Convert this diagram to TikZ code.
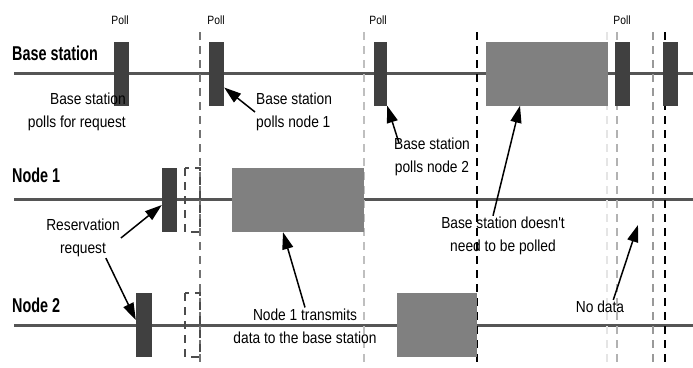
\documentclass[tikz,border=0pt]{standalone}
\usepackage{fontspec}
\setmainfont{Liberation Sans}
\newfontfamily\narrowfont[FakeStretch=0.86]{Liberation Sans}
\newfontfamily\headfont[FakeStretch=0.72]{Liberation Sans}
\usetikzlibrary{arrows.meta}
\definecolor{linegray}{HTML}{555555}
\definecolor{bardark}{HTML}{404040}
\definecolor{boxgray}{HTML}{808080}
\tikzset{
  timeline/.style={draw=linegray,line width=3pt},
  pollbar/.style={fill=bardark,inner sep=0pt,minimum width=15pt,minimum height=64pt},
  databox/.style={fill=boxgray,inner sep=0pt,minimum height=64pt},
  guide/.style={line width=1.5pt,dash pattern=on 8pt off 6pt},
  rowlabel/.style={font=\headfont\fontsize{20}{22}\selectfont\bfseries,anchor=west,inner sep=0pt},
  polllabel/.style={font=\narrowfont\fontsize{12}{14}\selectfont,inner sep=0pt},
  note/.style={font=\narrowfont\fontsize{16}{23}\selectfont,inner sep=1pt},
  callout/.style={draw=black,line width=1.5pt,-{Triangle[length=17pt,width=11pt]}}
}
\begin{document}
\begin{tikzpicture}[x=1pt,y=-1pt]
\useasboundingbox (0,0) rectangle (693,367);
% time lines
\draw[timeline] (14,73)--(693,73);
\draw[timeline] (14,199)--(693,199);
\draw[timeline] (14,325)--(693,325);
% slot boundaries
\draw[guide,draw=black!55] (200,32)--(200,367);
\draw[guide,draw=black!25] (364,32)--(364,367);
\draw[guide,draw=black] (477,32)--(477,367);
\draw[guide,draw=black!10] (607,32)--(607,367);
\draw[guide,draw=black!30] (617,32)--(617,367);
\draw[guide,draw=black!40] (653,32)--(653,367);
\draw[guide,draw=black] (665,32)--(665,367);
\draw[guide,line width=1.2pt,draw=black!70] (185,168) rectangle (200,232);
\draw[guide,line width=1.2pt,draw=black!70] (185,293) rectangle (200,357);
% base station
\node[pollbar] (bs1) at (121.5,73.5) {};
\node[pollbar] (bs2) at (216.5,73.5) {};
\node[pollbar,minimum width=13pt] (bs3) at (380.5,73.5) {};
\node[databox,minimum width=122pt] (bsd) at (547,73.5) {};
\node[pollbar] (bs4) at (622.5,73.5) {};
\node[pollbar] (bs5) at (670.5,73.5) {};
% node 1 and node 2
\node[pollbar] (n1bar) at (169.5,200) {};
\node[databox,minimum width=132pt] (n1box) at (298,200) {};
\node[pollbar,minimum width=16pt] (n2bar) at (144,325) {};
\node[databox,minimum width=80pt] (n2box) at (437,325) {};
% labels
\node[rowlabel] (bslabel) at (12,53) {Base station};
\node[rowlabel] (n1label) at (12,175) {Node 1};
\node[rowlabel] (n2label) at (12,305) {Node 2};
\node[polllabel] (poll1) at (120,20) {Poll};
\node[polllabel] (poll2) at (216,20) {Poll};
\node[polllabel] (poll3) at (378,20) {Poll};
\node[polllabel] (poll4) at (622,20) {Poll};
\node[note,align=right,anchor=east] (t1) at (127,112) {Base station\\polls for request};
\node[note,align=left,anchor=west] (t2) at (255,112) {Base station\\polls node 1};
\node[note,align=center] (t3) at (432,157) {Base station\\polls node 2};
\node[note,align=center] (t4) at (503,236) {Base station doesn't\\need to be polled};
\node[note,align=center] (t5) at (83,238) {Reservation\\request};
\node[note,align=center] (t6) at (305,326) {Node 1 transmits\\data to the base station};
\node[note] (t7) at (600,307) {No data};
\coordinate (nodata) at (638,225);
% callouts
\draw[callout] (t5.east)--([yshift=-5pt]n1bar.west);
\draw[callout] ([xshift=-15pt]t5.south east)--([yshift=5pt]n2bar.west);
\draw[callout] (t2.west)--([yshift=-14pt]bs2.east);
\draw[callout] ([xshift=6pt,yshift=-6pt]t3.north west)--(bs3.south east);
\draw[callout] ([xshift=-10pt]t4.north)--([xshift=-27pt]bsd.south);
\draw[callout] (t6.north)--([xshift=-15pt]n1box.south);
\draw[callout] ([xshift=-12pt]t7.north east)--(nodata);
\end{tikzpicture}
\end{document}
